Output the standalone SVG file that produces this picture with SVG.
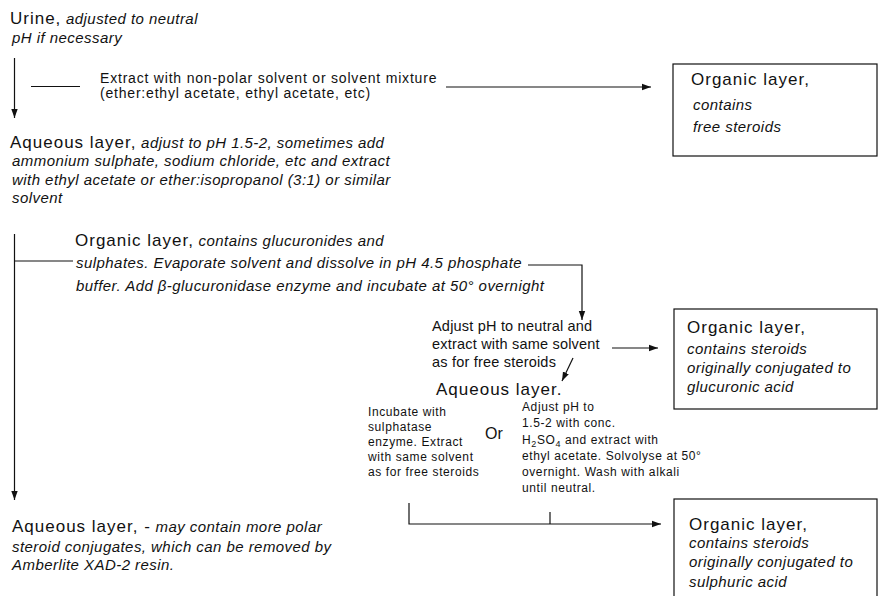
<svg xmlns="http://www.w3.org/2000/svg" width="878" height="596" viewBox="0 0 878 596">
  <defs>
    <marker id="arrow" markerUnits="userSpaceOnUse" markerWidth="10" markerHeight="8" refX="9" refY="4" orient="auto">
      <path d="M0,0.8 L9,4 L0,7.2 Z" fill="#111"/>
    </marker>
    <style>
      text { font-family: "Liberation Sans", Arial, Helvetica, sans-serif; fill: #111; }
      .head { font-size: 17px; letter-spacing: 1px; }
      .it { font-size: 15px; font-style: italic; letter-spacing: 0.45px; }
      .mid { font-size: 14px; letter-spacing: 0.8px; }
      .step { font-size: 14.5px; letter-spacing: 0.2px; }
      .or { font-size: 16px; }
      .small { font-size: 12px; letter-spacing: 0.6px; }
      .sub { font-size: 9px; }
      .line { fill: none; stroke: #111; stroke-width: 1.2; }
      .box { fill: #fff; stroke: #111; stroke-width: 1.2; }
    </style>
  </defs>

  <!-- connectors -->
  <g id="connectors">
    <line class="line" x1="14.5" y1="58" x2="14.5" y2="118" marker-end="url(#arrow)"/>
    <line class="line" x1="31" y1="86.5" x2="80" y2="86.5"/>
    <line class="line" x1="446" y1="87" x2="651" y2="87" marker-end="url(#arrow)"/>
    <line class="line" x1="14.5" y1="234" x2="14.5" y2="500" marker-end="url(#arrow)"/>
    <line class="line" x1="14.5" y1="261" x2="73" y2="261"/>
    <polyline class="line" points="528,265 582,265 582,320" marker-end="url(#arrow)"/>
    <line class="line" x1="612" y1="348" x2="658" y2="348" marker-end="url(#arrow)"/>
    <line class="line" x1="573" y1="358" x2="562" y2="381" marker-end="url(#arrow)"/>
    <polyline class="line" points="409,503 409,524 661,524" marker-end="url(#arrow)"/>
    <line class="line" x1="550" y1="512" x2="550" y2="524"/>
  </g>

  <g id="urine">
    <text x="10" y="24"><tspan class="head">Urine,</tspan><tspan class="it"> adjusted to neutral</tspan></text>
    <text class="it" x="12" y="43">pH if necessary</text>
  </g>

  <g id="extract-step">
    <text class="mid" x="100" y="83">Extract with non-polar solvent or solvent mixture</text>
    <text class="mid" x="100" y="98">(ether:ethyl acetate, ethyl acetate, etc)</text>
  </g>

  <g id="organic-free">
    <rect class="box" x="673" y="64" width="204" height="92"/>
    <text class="head" x="691" y="85">Organic layer,</text>
    <text class="it" x="693" y="110">contains</text>
    <text class="it" x="693" y="132">free steroids</text>
  </g>

  <g id="aqueous-1">
    <text x="10" y="148"><tspan class="head">Aqueous layer,</tspan><tspan class="it"> adjust to pH 1.5-2, sometimes add</tspan></text>
    <text class="it" x="12" y="166">ammonium sulphate, sodium chloride, etc and extract</text>
    <text class="it" x="12" y="185">with ethyl acetate or ether:isopropanol (3:1) or similar</text>
    <text class="it" x="12" y="203">solvent</text>
  </g>

  <g id="organic-conjugates">
    <text x="75" y="246"><tspan class="head">Organic layer,</tspan><tspan class="it"> contains glucuronides and</tspan></text>
    <text class="it" x="76" y="268">sulphates. Evaporate solvent and dissolve in pH 4.5 phosphate</text>
    <text class="it" x="76" y="291">buffer. Add β-glucuronidase enzyme and incubate at 50° overnight</text>
  </g>

  <g id="neutral-extract">
    <text class="step" x="432" y="331">Adjust pH to neutral and</text>
    <text class="step" x="432" y="349">extract with same solvent</text>
    <text class="step" x="432" y="367">as for free steroids</text>
  </g>

  <g id="organic-glucuronic">
    <rect class="box" x="674" y="309" width="203" height="100"/>
    <text class="head" x="687" y="333">Organic layer,</text>
    <text class="it" x="687" y="354">contains steroids</text>
    <text class="it" x="687" y="373">originally conjugated to</text>
    <text class="it" x="687" y="392">glucuronic acid</text>
  </g>

  <g id="aqueous-2">
    <text class="head" x="436" y="395">Aqueous layer.</text>
  </g>

  <g id="sulphatase">
    <text class="small" x="368" y="416">Incubate with</text>
    <text class="small" x="368" y="431">sulphatase</text>
    <text class="small" x="368" y="446">enzyme. Extract</text>
    <text class="small" x="368" y="461">with same solvent</text>
    <text class="small" x="368" y="476">as for free steroids</text>
  </g>

  <g id="or">
    <text class="or" x="485" y="439">Or</text>
  </g>

  <g id="solvolysis">
    <text class="small" x="522" y="411">Adjust pH to</text>
    <text class="small" x="522" y="427">1.5-2 with conc.</text>
    <text class="small" x="522" y="444">H<tspan class="sub" dy="3">2</tspan><tspan dy="-3">SO</tspan><tspan class="sub" dy="3">4</tspan><tspan dy="-3"> and extract with</tspan></text>
    <text class="small" x="522" y="460">ethyl acetate. Solvolyse at 50°</text>
    <text class="small" x="522" y="476">overnight. Wash with alkali</text>
    <text class="small" x="522" y="492">until neutral.</text>
  </g>

  <g id="aqueous-3">
    <text x="12" y="532"><tspan class="head">Aqueous layer, -</tspan><tspan class="it"> may contain more polar</tspan></text>
    <text class="it" x="12" y="552">steroid conjugates, which can be removed by</text>
    <text class="it" x="12" y="570">Amberlite XAD-2 resin.</text>
  </g>

  <g id="organic-sulphuric">
    <rect class="box" x="674" y="499" width="203" height="110"/>
    <text class="head" x="689" y="530">Organic layer,</text>
    <text class="it" x="689" y="548">contains steroids</text>
    <text class="it" x="689" y="567">originally conjugated to</text>
    <text class="it" x="689" y="587">sulphuric acid</text>
  </g>
</svg>
